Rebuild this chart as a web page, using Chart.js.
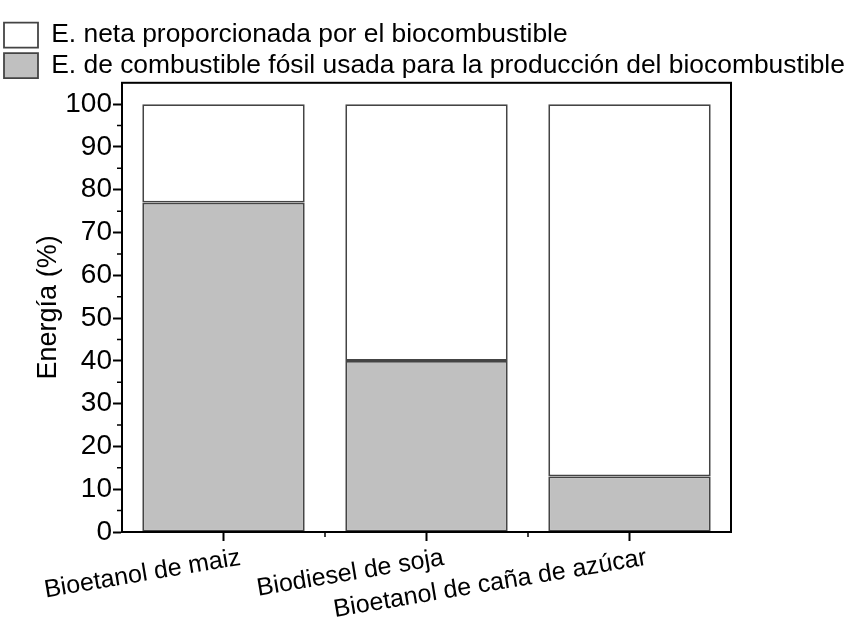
<!DOCTYPE html>
<html>
<head>
<meta charset="utf-8">
<script src="https://cdn.jsdelivr.net/npm/chart.js@4.4.0/dist/chart.umd.min.js"></script>
<style>
body{margin:0;background:#fff;}
#wrap{width:852px;height:619px;}
</style>
</head>
<body>
<div id="wrap"><canvas id="myChart"></canvas></div>
<script>
// categories and values
const categories = ['Bioetanol de maiz', 'Biodiesel de soja', 'Bioetanol de caña de azúcar'];
const fossilEnergy = [77, 40, 13];
const netEnergy = [23, 60, 87];
const fossilName = 'E. de combustible fósil usada para la producción del biocombustible';
const netName = 'E. neta proporcionada por el biocombustible';
const yTicks = [0, 10, 20, 30, 40, 50, 60, 70, 80, 90, 100];
const yMinorTicks = [5, 15, 25, 35, 45, 55, 65, 75, 85, 95];

Chart.defaults.font.family = '"Liberation Sans", Arial, sans-serif';
Chart.defaults.color = '#000';

// frame round the plot + the small ticks, and a tighter legend
const framePlugin = {
    id: 'frame',
    beforeInit(chart) {
        const lg = chart.legend;
        if (lg) {
            const fit = lg.fit;
            lg.fit = function() { fit.call(this); this.height -= 6; };
        }
    },
    afterDraw(chart) {
        const ctx = chart.ctx;
        const a = chart.chartArea;
        const x = chart.scales.x;
        const y = chart.scales.y;
        ctx.save();
        ctx.strokeStyle = '#000';
        ctx.lineWidth = 2;
        ctx.strokeRect(a.left, a.top, a.right - a.left, a.bottom - a.top);
        ctx.lineWidth = 1.5;
        ctx.beginPath();
        yMinorTicks.forEach(v => {
            const py = y.getPixelForValue(v);
            ctx.moveTo(a.left - 5, py);
            ctx.lineTo(a.left, py);
        });
        for (let i = 0; i < categories.length - 1; i++) {
            const px = (x.getPixelForValue(i) + x.getPixelForValue(i + 1)) / 2;
            ctx.moveTo(px, a.bottom);
            ctx.lineTo(px, a.bottom + 5);
        }
        ctx.stroke();
        ctx.restore();
    }
};

document.addEventListener('DOMContentLoaded', function() {
var ctx = document.getElementById('myChart').getContext('2d');

var myChart = new Chart(ctx, {
    type: 'bar',
    data: {
        labels: categories,
        datasets: [{
            label: fossilName,
            data: fossilEnergy,
            backgroundColor: '#c0c0c0',
            borderColor: '#444',
            borderWidth: 1.8,
            borderSkipped: false
        }, {
            label: netName,
            data: netEnergy,
            backgroundColor: '#fff',
            borderColor: '#444',
            borderWidth: 1.8,
            borderSkipped: false
        }]
    },
    plugins: [framePlugin],
    options: {
        responsive: true,
        maintainAspectRatio: false,
        animation: false,
        layout: { padding: { left: 0, right: 0, top: 18, bottom: 0 } },
        datasets: { bar: { categoryPercentage: 1, barPercentage: 0.8 } },
        plugins: {
            tooltip: { enabled: false },
            legend: {
                position: 'top',
                align: 'start',
                reverse: true,
                labels: {
                    boxWidth: 34,
                    boxHeight: 25,
                    padding: 4,
                    color: '#000',
                    font: { size: 26.4 }
                }
            }
        },
        scales: {
            x: {
                stacked: true,
                grid: { drawOnChartArea: false, offset: false, tickLength: 9, tickColor: '#000', tickWidth: 2 },
                border: { color: '#000', width: 2 },
                ticks: {
                    minRotation: 9.5,
                    maxRotation: 9.5,
                    labelOffset: 17,
                    padding: 2,
                    color: '#000',
                    font: { size: 25 }
                },
                afterFit(scale) { scale.height = 87; }
            },
            y: {
                stacked: true,
                min: 0,
                max: 105,
                grid: { drawOnChartArea: false, tickLength: 9, tickColor: '#000', tickWidth: 2 },
                border: { color: '#000', width: 2 },
                ticks: {
                    padding: 1,
                    color: '#000',
                    font: { size: 28 }
                },
                afterBuildTicks(scale) {
                    scale.ticks = yTicks.map(v => ({ value: v }));
                },
                title: {
                    display: true,
                    text: 'Energía (%)',
                    color: '#000',
                    font: { size: 27 },
                    padding: { top: 32, bottom: 0 }
                },
                afterFit(scale) { scale.width = 122; }
            },
            yRight: {
                position: 'right',
                grid: { display: false },
                border: { display: false },
                ticks: { display: false },
                afterFit(scale) { scale.width = 121; }
            }
        }
    }
});
});
</script>
</body>
</html>
